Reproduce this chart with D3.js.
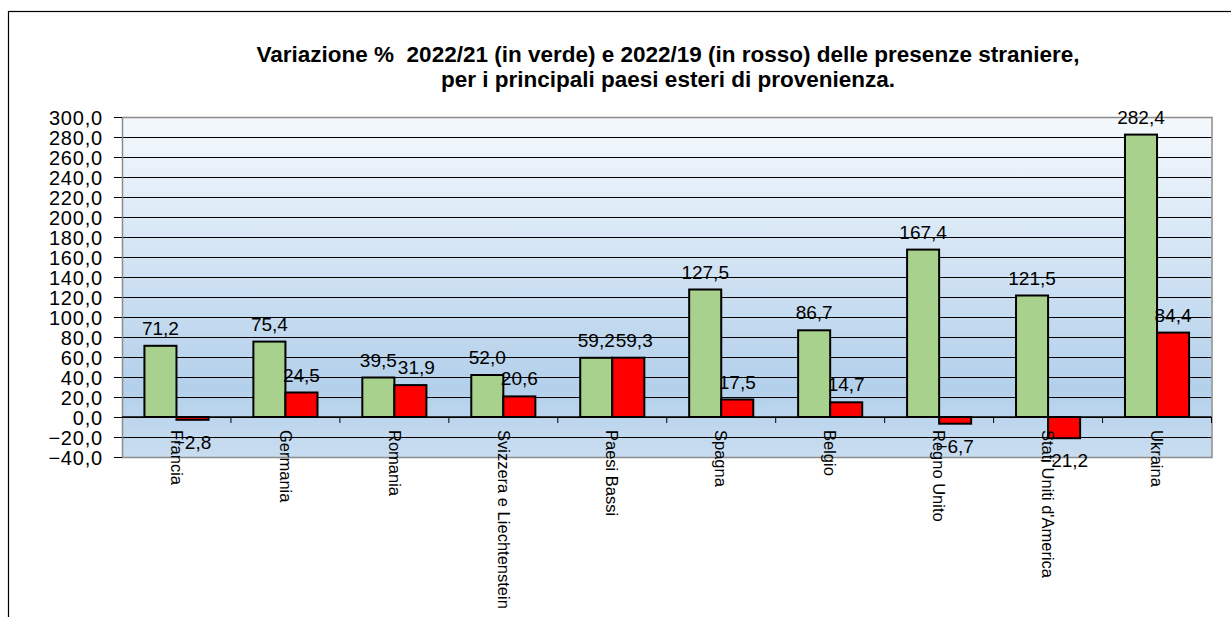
<!DOCTYPE html>
<html>
<head>
<meta charset="utf-8">
<script src="https://cdn.jsdelivr.net/npm/d3@7"></script>
<style>
  body { margin: 0; background: #fff; }
  svg { display: block; font-family: "Liberation Sans", Arial, sans-serif; }
</style>
</head>
<body>
<div id="vis"></div>
<script>
// Chart data
var categories = ['Francia', 'Germania', 'Romania', 'Svizzera e Liechtenstein', 'Paesi Bassi',
    'Spagna', 'Belgio', 'Regno Unito', "Stati Uniti d'America", 'Ukraina'];
// 2022/21 (green) bar heights
var greenValues = [71.2, 75.4, 39.5, 42.0, 59.2, 127.5, 86.7, 167.4, 121.5, 282.4];
// printed labels on the green bars (Svizzera label differs from its bar)
var greenLabels = [71.2, 75.4, 39.5, 52.0, 59.2, 127.5, 86.7, 167.4, 121.5, 282.4];
// 2022/19 (red)
var redValues = [-2.8, 24.5, 31.9, 20.6, 59.3, 17.5, 14.7, -6.7, -21.2, 84.4];
var yTicks = [-40, -20, 0, 20, 40, 60, 80, 100, 120, 140, 160, 180, 200, 220, 240, 260, 280, 300];
var titleLines = ['Variazione %  2022/21 (in verde) e 2022/19 (in rosso) delle presenze straniere,',
    'per i principali paesi esteri di provenienza.'];

var width = 1231;
var height = 617;
var margin = { top: 117, right: 19.5, bottom: 160, left: 122 };

var svg = d3.select('#vis')
    .append('svg')
    .attr('width', width)
    .attr('height', height);

// outer frame (only left and top fall inside the picture)
svg.append('rect')
    .attr('x', 8.5).attr('y', 11.5)
    .attr('width', 1400).attr('height', 800)
    .attr('fill', 'none').attr('stroke', '#000').attr('stroke-width', 1.2);

var fmt = function(v) { return d3.format('.1f')(v).replace('.', ','); };

// scales
var x0 = d3.scaleBand()
    .domain(categories)
    .range([margin.left, width - margin.right])
    .paddingInner(0).paddingOuter(0);
var x1 = d3.scaleBand()
    .domain(['green', 'red'])
    .range([0, x0.bandwidth()])
    .paddingInner(0).paddingOuter(0.7);
var y = d3.scaleLinear()
    .domain([-40, 300])
    .range([height - margin.bottom, margin.top]);

// plot area background gradient
var defs = svg.append('defs');
var grad = defs.append('linearGradient')
    .attr('id', 'bg').attr('x1', 0).attr('y1', 0).attr('x2', 0).attr('y2', 1);
grad.append('stop').attr('offset', '0%').attr('stop-color', '#f5f9fd');
grad.append('stop').attr('offset', '80%').attr('stop-color', '#b3d0eb');
grad.append('stop').attr('offset', '100%').attr('stop-color', '#c9ddf0');

var plotX = margin.left, plotY = margin.top;
var plotW = width - margin.right - margin.left;
var plotH = height - margin.bottom - margin.top;

svg.append('rect')
    .attr('x', plotX).attr('y', plotY)
    .attr('width', plotW).attr('height', plotH)
    .attr('fill', 'url(#bg)');

// gridlines
svg.append('g')
    .selectAll('line')
    .data(yTicks.filter(function(t) { return t > -40 && t < 300; }))
    .enter().append('line')
    .attr('x1', plotX).attr('x2', plotX + plotW)
    .attr('y1', function(d) { return Math.round(y(d)) + 0.5; })
    .attr('y2', function(d) { return Math.round(y(d)) + 0.5; })
    .attr('stroke', '#000').attr('stroke-width', 1);

// plot border
svg.append('rect')
    .attr('x', plotX + 0.5).attr('y', plotY + 0.5)
    .attr('width', plotW).attr('height', plotH)
    .attr('fill', 'none').attr('stroke', '#8c8c8c').attr('stroke-width', 1.5);

// y axis
var yAxis = d3.axisLeft(y)
    .tickValues(yTicks)
    .tickFormat(fmt)
    .tickSize(8)
    .tickPadding(11);
var yAxisG = svg.append('g')
    .attr('transform', `translate(${plotX},0)`)
    .call(yAxis);
yAxisG.select('.domain').remove();
yAxisG.selectAll('.tick line').attr('stroke', '#000');
yAxisG.selectAll('.tick text')
    .attr('font-size', 20)
    .attr('letter-spacing', 0.8)
    .attr('fill', '#000')
    .attr('dy', '0.36em');

// bars
var groups = svg.append('g')
    .selectAll('g')
    .data(categories)
    .enter().append('g')
    .attr('transform', function(d) { return `translate(${x0(d)},0)`; });

var barData = function(d, i) {
    return [
        { key: 'green', value: greenValues[i], label: greenLabels[i] },
        { key: 'red', value: redValues[i], label: redValues[i] }
    ];
};

groups.selectAll('rect')
    .data(barData)
    .enter().append('rect')
    .attr('x', function(d) { return x1(d.key); })
    .attr('width', x1.bandwidth())
    .attr('y', function(d) { return y(Math.max(0, d.value)); })
    .attr('height', function(d) { return Math.abs(y(d.value) - y(0)); })
    .attr('fill', function(d) { return d.key === 'green' ? '#a9d18e' : '#ff0000'; })
    .attr('stroke', '#000')
    .attr('stroke-width', 2);

// x axis line at zero with ticks between categories
var xAxisG = svg.append('g');
xAxisG.append('line')
    .attr('x1', plotX).attr('x2', plotX + plotW)
    .attr('y1', y(0)).attr('y2', y(0))
    .attr('stroke', '#000').attr('stroke-width', 1.5);
xAxisG.selectAll('.xtick')
    .data(categories.slice(1).concat(['end']))
    .enter().append('line')
    .attr('x1', function(d) { return d === 'end' ? plotX + plotW : x0(d); })
    .attr('x2', function(d) { return d === 'end' ? plotX + plotW : x0(d); })
    .attr('y1', y(0)).attr('y2', y(0) + 6)
    .attr('stroke', '#000').attr('stroke-width', 1);

// category labels, rotated
svg.append('g')
    .selectAll('text')
    .data(categories)
    .enter().append('text')
    .attr('transform', function(d) {
        return `translate(${x0(d) + x0.bandwidth() / 2},${y(0) + 13}) rotate(90)`;
    })
    .attr('dy', '0.35em')
    .attr('font-size', 16.5)
    .attr('fill', '#000')
    .text(function(d) { return d; });

// data labels
groups.selectAll('text.lbl')
    .data(barData)
    .enter().append('text')
    .attr('class', 'lbl')
    .attr('x', function(d) { return x1(d.key) + x1.bandwidth() / 2; })
    .attr('y', function(d) { return d.value >= 0 ? y(d.value) - 11 : y(d.value) + 29; })
    .attr('text-anchor', 'middle')
    .attr('font-size', 19)
    .attr('fill', '#000')
    .text(function(d) { return fmt(d.label); });

// nudge a red label right when it collides with its green neighbour
groups.each(function() {
    var lbls = d3.select(this).selectAll('text.lbl').nodes();
    var a = lbls[0].getBBox(), b = lbls[1].getBBox();
    var vOverlap = a.y < b.y + b.height && b.y < a.y + a.height;
    if (vOverlap && a.x + a.width > b.x) {
        var shift = a.x + a.width - b.x + 1;
        d3.select(lbls[1]).attr('x', +d3.select(lbls[1]).attr('x') + shift);
    }
});

// title
svg.append('g')
    .selectAll('text')
    .data(titleLines)
    .enter().append('text')
    .attr('x', 668)
    .attr('y', function(d, i) { return 62 + i * 25; })
    .attr('text-anchor', 'middle')
    .attr('font-size', 22.5)
    .attr('font-weight', 'bold')
    .attr('fill', '#000')
    .attr('xml:space', 'preserve')
    .text(function(d) { return d; });
</script>
</body>
</html>
